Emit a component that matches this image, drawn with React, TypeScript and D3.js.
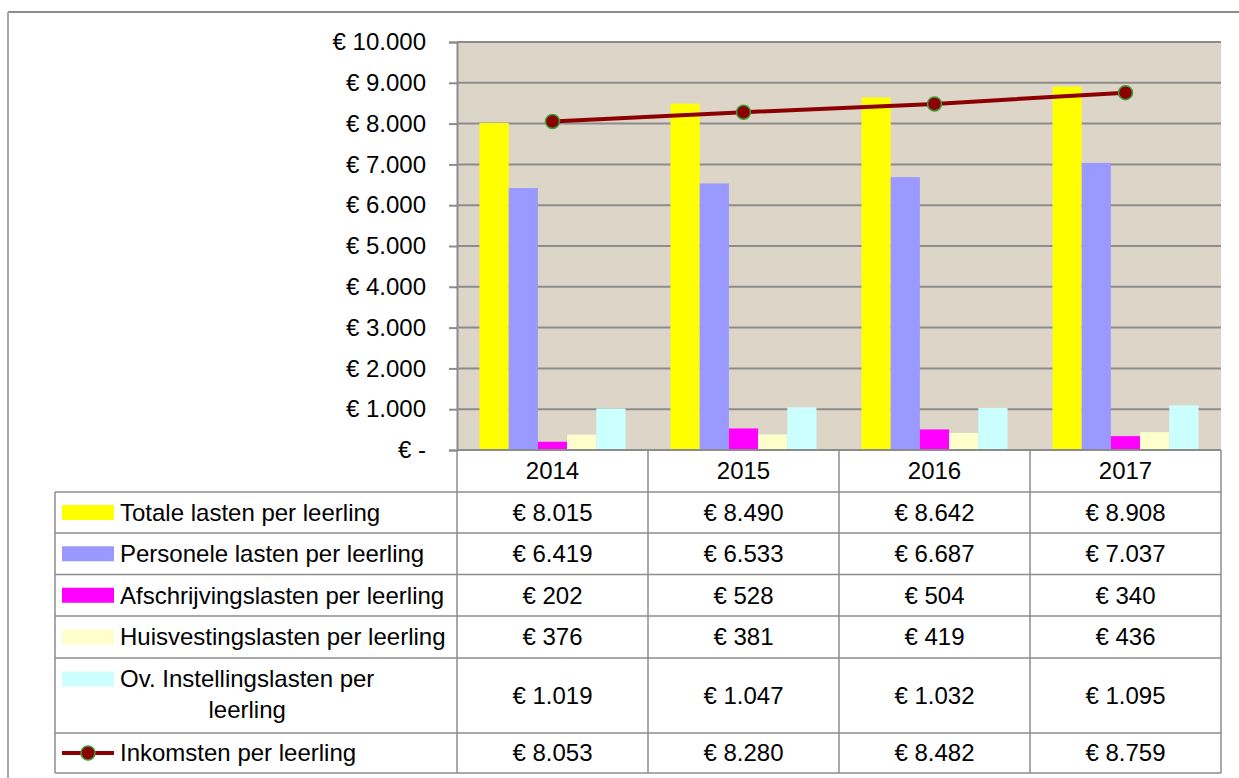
import React, { useRef, useEffect } from 'react';
import * as d3 from 'd3';

const years = ['2014', '2015', '2016', '2017'];
const totaleLasten = [8015, 8490, 8642, 8908];
const personeleLasten = [6419, 6533, 6687, 7037];
const afschrijvingsLasten = [202, 528, 504, 340];
const huisvestingsLasten = [376, 381, 419, 436];
const overigeLasten = [1019, 1047, 1032, 1095];
const inkomsten = [8053, 8280, 8482, 8759];

const barSeries = [
  { name: 'Totale lasten per leerling', values: totaleLasten, color: '#ffff00' },
  { name: 'Personele lasten per leerling', values: personeleLasten, color: '#9999ff' },
  { name: 'Afschrijvingslasten per leerling', values: afschrijvingsLasten, color: '#ff00ff' },
  { name: 'Huisvestingslasten per leerling', values: huisvestingsLasten, color: '#ffffcc' },
  { name: 'Ov. Instellingslasten per leerling', values: overigeLasten, color: '#ccffff' },
];
const lineSeries = { name: 'Inkomsten per leerling', values: inkomsten, color: '#8b0000' };

const yTicks = d3.range(0, 10001, 1000);

const nl = d3.formatLocale({ decimal: ',', thousands: '.', grouping: [3], currency: ['€ ', ''] });
const euro = (v: number) => (v === 0 ? '€ -' : nl.format('$,.0f')(v));

const W = 1239;
const H = 778;
const FONT = '"Liberation Sans", Arial, sans-serif';

const Chart = () => {
  const svgRef = useRef<SVGSVGElement>(null);

  useEffect(() => {
    const svg = d3.select(svgRef.current);
    svg.selectAll('*').remove();

    const plot = { left: 457, right: 1221, top: 42, bottom: 450 };
    const tableLeft = 55;
    // row boundaries of the data table (header + 6 series rows)
    const rowEdges = [450, 492, 533, 574.5, 616, 658, 733, 773];
    const gridColor = '#8c8c8c';

    // outer chart frame
    svg.append('line').attr('x1', 8).attr('x2', W).attr('y1', 12).attr('y2', 12)
      .attr('stroke', '#8c8c8c').attr('stroke-width', 2);
    svg.append('line').attr('x1', 8).attr('x2', 8).attr('y1', 12).attr('y2', H)
      .attr('stroke', '#a6a6a6').attr('stroke-width', 2);

    const x0 = d3.scaleBand().domain(years).range([plot.left, plot.right]);
    const x1 = d3.scaleBand().domain(barSeries.map(s => s.name))
      .range([0, x0.bandwidth()]).paddingInner(0).paddingOuter(0.77);
    const y = d3.scaleLinear().domain([0, 10000]).range([plot.bottom, plot.top]);

    // plot background
    svg.append('rect')
      .attr('x', plot.left).attr('y', plot.top)
      .attr('width', plot.right - plot.left).attr('height', plot.bottom - plot.top)
      .attr('fill', '#ddd5c8');

    // gridlines
    svg.append('g').selectAll('line')
      .data(yTicks.filter(t => t > 0))
      .enter().append('line')
      .attr('x1', plot.left).attr('x2', plot.right)
      .attr('y1', d => y(d)).attr('y2', d => y(d))
      .attr('stroke', gridColor).attr('stroke-width', 2);

    // y axis
    const yAxis = svg.append('g')
      .attr('transform', `translate(${plot.left},0)`)
      .call(d3.axisLeft(y).tickValues(yTicks).tickFormat(d => euro(+d)).tickSize(8).tickPadding(23));
    yAxis.select('.domain').attr('stroke', gridColor).attr('stroke-width', 2);
    yAxis.selectAll('.tick line').attr('stroke', gridColor).attr('stroke-width', 2);
    yAxis.selectAll('.tick text')
      .attr('font-family', FONT).attr('font-size', 24).attr('fill', '#000');

    // bars
    barSeries.forEach(s => {
      svg.append('g').selectAll('rect')
        .data(s.values)
        .enter().append('rect')
        .attr('x', (_, i) => (x0(years[i]) as number) + (x1(s.name) as number))
        .attr('y', d => y(d))
        .attr('width', x1.bandwidth())
        .attr('height', d => y(0) - y(d))
        .attr('fill', s.color);
    });

    // income line
    const cx = (i: number) => (x0(years[i]) as number) + x0.bandwidth() / 2;
    const line = d3.line<number>().x((_, i) => cx(i)).y(d => y(d));
    svg.append('path').datum(lineSeries.values)
      .attr('d', line).attr('fill', 'none')
      .attr('stroke', lineSeries.color).attr('stroke-width', 4);
    svg.append('g').selectAll('circle')
      .data(lineSeries.values)
      .enter().append('circle')
      .attr('cx', (_, i) => cx(i)).attr('cy', d => y(d)).attr('r', 7)
      .attr('fill', lineSeries.color).attr('stroke', '#3f9b3f').attr('stroke-width', 1.5);

    // data table
    const table = svg.append('g');
    const tableColor = '#8c8c8c';
    // horizontal lines
    rowEdges.forEach((ry, k) => {
      table.append('line')
        .attr('x1', k === 0 ? plot.left : tableLeft).attr('x2', plot.right)
        .attr('y1', ry).attr('y2', ry)
        .attr('stroke', tableColor).attr('stroke-width', k === 0 ? 2 : 1.5);
    });
    // vertical lines
    table.append('line').attr('x1', tableLeft).attr('x2', tableLeft)
      .attr('y1', rowEdges[1]).attr('y2', rowEdges[rowEdges.length - 1])
      .attr('stroke', tableColor).attr('stroke-width', 1.5);
    [...years.map(yr => x0(yr) as number), plot.right].forEach(vx => {
      table.append('line').attr('x1', vx).attr('x2', vx)
        .attr('y1', rowEdges[0]).attr('y2', rowEdges[rowEdges.length - 1])
        .attr('stroke', tableColor).attr('stroke-width', 1.5);
    });

    const txt = (g: any) => g.attr('font-family', FONT).attr('font-size', 24).attr('fill', '#000');

    // header years
    years.forEach((yr, i) => {
      table.append('text').call(txt)
        .attr('x', cx(i)).attr('y', (rowEdges[0] + rowEdges[1]) / 2)
        .attr('dy', '0.35em').attr('text-anchor', 'middle').text(yr);
    });

    const allRows = [...barSeries.map(s => ({ ...s, isLine: false })), { ...lineSeries, isLine: true }];
    allRows.forEach((s, r) => {
      const top = rowEdges[r + 1];
      const bot = rowEdges[r + 2];
      const mid = (top + bot) / 2;
      const twoLine = bot - top > 60;
      const keyY = twoLine ? top + 21 : mid;

      if (s.isLine) {
        table.append('line').attr('x1', 62).attr('x2', 114).attr('y1', keyY).attr('y2', keyY)
          .attr('stroke', s.color).attr('stroke-width', 4);
        table.append('circle').attr('cx', 88).attr('cy', keyY).attr('r', 7)
          .attr('fill', s.color).attr('stroke', '#3f9b3f').attr('stroke-width', 1.5);
      } else {
        table.append('rect').attr('x', 62).attr('y', keyY - 7.5).attr('width', 52).attr('height', 15)
          .attr('fill', s.color);
      }

      if (twoLine) {
        const words = s.name.split(' ');
        const first = words.slice(0, -1).join(' ');
        const last = words[words.length - 1];
        const t1 = table.append('text').call(txt)
          .attr('x', 120).attr('y', keyY).attr('dy', '0.35em').text(first);
        const w1 = (t1.node() as SVGTextElement).getComputedTextLength();
        t1.attr('x', 120 + w1 / 2).attr('text-anchor', 'middle');
        table.append('text').call(txt)
          .attr('x', 120 + w1 / 2).attr('y', keyY + 31).attr('dy', '0.35em')
          .attr('text-anchor', 'middle').text(last);
      } else {
        table.append('text').call(txt)
          .attr('x', 120).attr('y', mid).attr('dy', '0.35em').text(s.name);
      }

      s.values.forEach((v, i) => {
        table.append('text').call(txt)
          .attr('x', cx(i)).attr('y', mid).attr('dy', '0.35em')
          .attr('text-anchor', 'middle').text(euro(v));
      });
    });
  }, []);

  return (
    <svg
      ref={svgRef}
      width={W}
      height={H}
      style={{ position: 'absolute', left: 0, top: 0, background: '#fff' }}
    />
  );
};

export default function App() {
  return <Chart />;
}
